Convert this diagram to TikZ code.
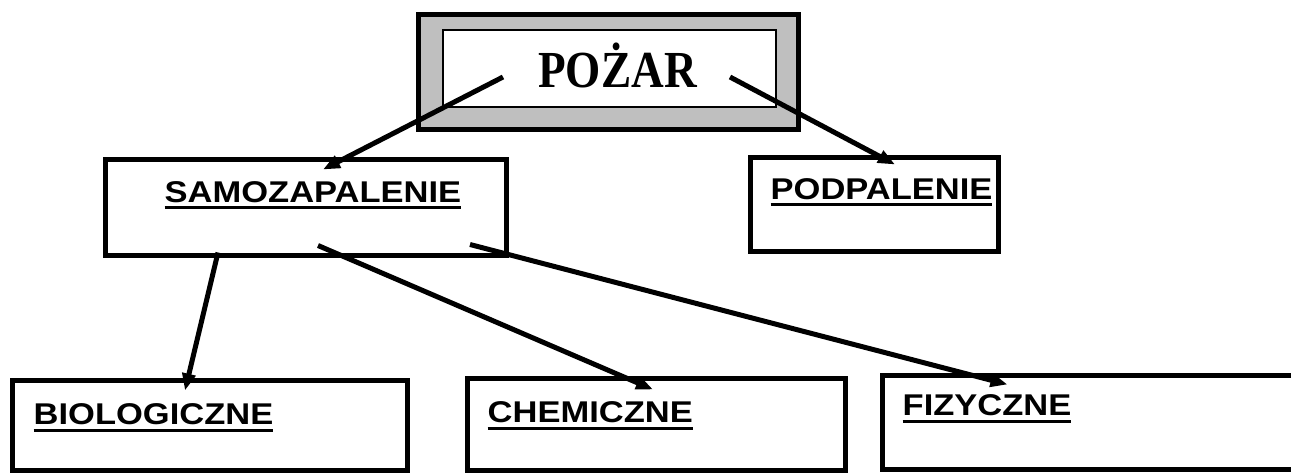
\documentclass[tikz,border=0pt]{standalone}
\usepackage{fontspec}
\setmainfont{Liberation Serif}
\setsansfont{Liberation Sans}
\usetikzlibrary{arrows.meta, calc}
\newsavebox{\ulsave}
\newcommand{\ulbold}[1]{\sbox{\ulsave}{\scalebox{1.15}[1]{#1}}\rlap{\usebox{\ulsave}}\rule[-7pt]{\wd\ulsave}{3pt}}

\begin{document}
\begin{tikzpicture}[x=1pt, y=-1pt,
    frame/.style={draw, line width=5pt, inner sep=0pt},
    lbl/.style={font=\sffamily\bfseries\fontsize{30}{36}\selectfont, inner sep=0pt, anchor=base west},
    arr/.style={line width=5pt, -{Triangle[length=17pt, width=13pt]}}
]
    \useasboundingbox (0,0) rectangle (1291,473);
    \clip (0,0) rectangle (1291,473);
    % title
    \node[frame, fill=black!25, minimum width=380pt, minimum height=115pt] (pozar) at (608,72.5) {};
    \node[draw, line width=1.2pt, fill=white, minimum width=333pt, minimum height=77pt] (pozarin) at (609.5,68.5) {};
    \node[font=\rmfamily\bfseries\fontsize{52}{60}\selectfont, inner sep=0pt, anchor=base] (pozartxt) at (617.5,88) {\scalebox{0.87}[1]{POŻAR}};
    % second row
    \node[frame, minimum width=401pt, minimum height=96pt] (samo) at (305.5,208) {};
    \node[lbl] (samotxt) at ($(samo.north west)+(62,45)$) {\ulbold{SAMOZAPALENIE}};
    \node[frame, minimum width=248pt, minimum height=94pt] (podp) at (874,205) {};
    \node[lbl] (podptxt) at ($(podp.north west)+(23,44)$) {\ulbold{PODPALENIE}};
    % third row
    \node[frame, minimum width=395pt, minimum height=90pt] (bio) at (209.5,425) {};
    \node[lbl] (biotxt) at ($(bio.north west)+(24,47)$) {\ulbold{BIOLOGICZNE}};
    \node[frame, minimum width=378pt, minimum height=92pt] (chem) at (656,424) {};
    \node[lbl] (chemtxt) at ($(chem.north west)+(23,47)$) {\ulbold{CHEMICZNE}};
    \node[frame, minimum width=438pt, minimum height=94pt] (fiz) at (1101,422) {};
    \node[lbl] (fiztxt) at ($(fiz.north west)+(23,43)$) {\ulbold{FIZYCZNE}};
    % arrows
    \draw[arr] ([shift={(-105,4.5)}]pozar.center) -- ([shift={(17.5,12)}]samo.north);
    \draw[arr] ([shift={(122,4.5)}]pozar.center) -- ([shift={(21,9)}]podp.north);
    \draw[arr] ([shift={(-87.5,-6)}]samo.south) -- ([shift={(-24.5,13)}]bio.north);
    \draw[arr] ([shift={(12.5,-13)}]samo.south) -- ([shift={(-3,14)}]chem.north);
    \draw[arr] ([shift={(164.5,-14)}]samo.south) -- ([shift={(128,12)}]fiz.north west);
\end{tikzpicture}
\end{document}
